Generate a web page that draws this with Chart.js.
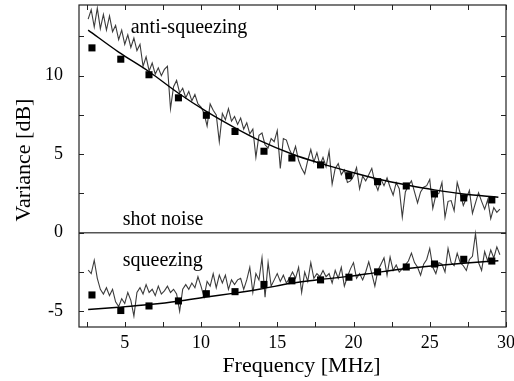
<!DOCTYPE html>
<html><head><meta charset="utf-8">
<script src="https://cdn.jsdelivr.net/npm/chart.js@4/dist/chart.umd.min.js"></script>
<style>html,body{margin:0;padding:0;background:#fff}#wrap{width:514px;height:381px}</style>
</head><body><div id="wrap"><canvas id="c" width="514" height="381"></canvas></div>
<script>
// ---- data ----
const traceFreq = [2.6,2.8,3.0,3.2,3.4,3.6,3.8,4.0,4.2,4.4,4.6,4.8,5.0,5.2,5.4,5.6,5.8,6.0,6.2,6.4,6.6,6.8,7.0,7.2,7.4,7.6,7.8,8.0,8.2,8.4,8.6,8.8,9.0,9.2,9.4,9.6,9.8,10.0,10.2,10.4,10.6,10.8,11.0,11.2,11.4,11.6,11.8,12.0,12.2,12.4,12.6,12.8,13.0,13.2,13.4,13.6,13.8,14.0,14.2,14.4,14.6,14.8,15.0,15.2,15.4,15.6,15.8,16.0,16.2,16.4,16.6,16.8,17.0,17.2,17.4,17.6,17.8,18.0,18.2,18.4,18.6,18.8,19.0,19.2,19.4,19.6,19.8,20.0,20.2,20.4,20.6,20.8,21.0,21.2,21.4,21.6,21.8,22.0,22.2,22.4,22.6,22.8,23.0,23.2,23.4,23.6,23.8,24.0,24.2,24.4,24.6,24.8,25.0,25.2,25.4,25.6,25.8,26.0,26.2,26.4,26.6,26.8,27.0,27.2,27.4,27.6,27.8,28.0,28.2,28.4,28.6,28.8,29.0,29.2,29.4,29.6];
const antiTrace = [13.6,14.2,13.1,14.3,13.0,13.9,12.9,13.8,12.8,13.2,12.3,12.9,12.0,12.6,11.8,12.4,11.6,12.0,10.6,11.2,10.3,10.8,10.1,10.5,10.0,10.4,10.6,7.9,9.3,9.7,8.9,9.2,8.6,9.0,8.4,8.8,8.2,8.0,7.6,6.8,8.2,7.8,7.5,5.8,7.6,7.2,7.9,7.1,7.4,6.9,7.3,6.6,7.0,6.3,6.6,4.8,6.2,6.35,5.6,5.4,6.0,5.8,6.5,4.1,6.0,5.9,5.3,4.9,5.5,4.6,4.1,3.75,4.6,5.3,4.5,5.1,4.3,4.8,4.2,5.2,3.1,4.1,4.4,3.7,4.0,3.2,3.3,3.6,4.15,2.8,3.6,3.3,3.7,4.1,3.2,2.7,3.4,3.0,3.5,2.9,2.4,3.2,2.8,1.0,2.6,3.0,3.3,2.6,1.9,2.6,2.9,3.0,3.4,1.55,2.4,2.5,3.2,0.98,2.0,2.05,1.4,3.2,2.5,1.73,2.2,2.7,1.23,1.9,2.55,2.0,1.5,2.1,0.9,1.6,1.3,1.5];
const squeezeTrace = [-2.37,-2.6,-1.75,-2.9,-3.6,-3.9,-3.5,-4.0,-3.6,-4.4,-4.7,-4.2,-4.5,-3.8,-4.3,-5.3,-3.8,-3.5,-3.9,-3.3,-3.8,-3.6,-4.0,-3.4,-3.9,-3.7,-3.4,-3.8,-3.6,-3.9,-5.0,-3.6,-3.3,-3.6,-3.2,-3.5,-2.8,-3.4,-4.1,-3.1,-3.4,-2.6,-3.5,-2.7,-3.2,-2.7,-3.6,-3.0,-3.3,-3.0,-2.9,-3.6,-3.0,-2.2,-3.8,-2.6,-3.0,-1.6,-4.1,-1.9,-3.4,-3.0,-2.6,-3.1,-2.7,-3.2,-2.9,-2.5,-2.9,-2.2,-3.8,-2.5,-3.1,-1.9,-2.9,-2.6,-2.8,-2.4,-2.8,-2.6,-3.2,-2.4,-2.9,-2.2,-3.4,-2.8,-2.3,-1.9,-2.9,-2.6,-3.0,-2.5,-1.85,-2.6,-3.4,-2.4,-2.0,-1.6,-2.7,-1.55,-2.4,-2.05,-2.5,-2.3,-2.05,-1.8,-1.3,-1.9,-2.2,-2.7,-2.0,-1.7,-1.0,-2.2,-2.6,-1.9,-2.0,-2.5,-1.0,-1.9,-2.1,-1.3,-1.9,-2.1,-2.4,-1.7,-1.5,-0.05,-1.9,-2.4,-1.2,-1.8,-1.1,-1.6,-0.9,-1.4];

const markerFreq = [2.85,4.74,6.59,8.52,10.35,12.23,14.13,15.96,17.84,19.70,21.58,23.46,25.31,27.23,29.07];
const antiMarkers = [11.77,11.05,10.06,8.59,7.48,6.45,5.19,4.76,4.32,3.63,3.25,2.98,2.47,2.22,2.09];
const squeezeMarkers = [-3.96,-4.95,-4.66,-4.34,-3.88,-3.75,-3.29,-3.06,-3.00,-2.83,-2.49,-2.18,-1.99,-1.69,-1.80];

const fitFreq = [2.6,4.6,6.6,8.5,10.35,12.2,13.9,16.0,17.8,19.7,21.6,23.5,25.3,27.2,29.5];
const antiFit = [12.9,11.5,10.25,8.9,7.73,6.7,5.85,5.0,4.43,3.9,3.42,3.04,2.73,2.47,2.26];
const squeezeFit = [-4.89,-4.74,-4.57,-4.36,-4.09,-3.84,-3.58,-3.2,-2.98,-2.78,-2.52,-2.28,-2.1,-1.94,-1.78];

const shotNoiseFreq = [2, 30];
const shotNoiseLevel = [0, 0];

const xTickLabels = [5,10,15,20,25,30];
const yTickLabels = [-5,0,5,10];
const xMinorTicks = [2.5,5,7.5,10,12.5,15,17.5,20,22.5,25,27.5,30];
const yMinorTicks = [-5,-2.5,0,2.5,5,7.5,10,12.5];

const annotations = [
  {text:'anti-squeezing', x:5.39, y:12.73},
  {text:'shot noise', x:4.87, y:0.47},
  {text:'squeezing', x:4.87, y:-2.11}
];
const xTitle = 'Frequency [MHz]';
const yTitle = 'Variance [dB]';

// ---- build ----
const pts = (xs, ys) => xs.map((x,i)=>({x:x, y:ys[i]}));
const FONT = "'Liberation Serif', 'Times New Roman', serif";

const framePlugin = {
  id:'frame',
  afterDraw(chart){
    const {ctx, chartArea:a, scales:{x, y}} = chart;
    ctx.save();
    ctx.strokeStyle = '#222';
    ctx.lineWidth = 1.2;
    ctx.strokeRect(a.left, a.top, a.right-a.left, a.bottom-a.top);
    ctx.lineWidth = 1;
    ctx.beginPath();
    const tl = 5;
    xMinorTicks.forEach(v=>{
      const px = Math.round(x.getPixelForValue(v))+0.5;
      ctx.moveTo(px, a.bottom); ctx.lineTo(px, a.bottom-tl);
      ctx.moveTo(px, a.top); ctx.lineTo(px, a.top+tl);
    });
    yMinorTicks.forEach(v=>{
      const py = Math.round(y.getPixelForValue(v))+0.5;
      ctx.moveTo(a.left, py); ctx.lineTo(a.left+tl, py);
      ctx.moveTo(a.right, py); ctx.lineTo(a.right-tl, py);
    });
    ctx.stroke();
    ctx.fillStyle = '#000';
    ctx.font = '20px ' + FONT;
    ctx.textAlign = 'left';
    ctx.textBaseline = 'alphabetic';
    annotations.forEach(t=>{
      ctx.fillText(t.text, x.getPixelForValue(t.x), y.getPixelForValue(t.y));
    });
    ctx.font = '22px ' + FONT;
    ctx.textAlign = 'center';
    ctx.fillText(xTitle, (a.left+a.right)/2 + 9, 372);
    ctx.save();
    ctx.translate(30, (a.top+a.bottom)/2 - 6);
    ctx.rotate(-Math.PI/2);
    ctx.fillText(yTitle, 0, 0);
    ctx.restore();
    ctx.restore();
  }
};

function zeroPad(s){ s.paddingTop = 0; s.paddingBottom = 0; s.paddingLeft = 0; s.paddingRight = 0; }

new Chart(document.getElementById('c'), {
  type:'line',
  data:{
    datasets:[
      {label:'anti markers', data:pts(markerFreq, antiMarkers), showLine:false, pointStyle:'rect', pointRadius:5, pointBackgroundColor:'#000', pointBorderWidth:0, order:0},
      {label:'squeeze markers', data:pts(markerFreq, squeezeMarkers), showLine:false, pointStyle:'rect', pointRadius:5, pointBackgroundColor:'#000', pointBorderWidth:0, order:0},
      {label:'anti fit', data:pts(fitFreq, antiFit), borderColor:'#000', borderWidth:1.4, pointRadius:0, cubicInterpolationMode:'monotone', order:1},
      {label:'squeeze fit', data:pts(fitFreq, squeezeFit), borderColor:'#000', borderWidth:1.4, pointRadius:0, cubicInterpolationMode:'monotone', order:1},
      {label:'anti trace', data:pts(traceFreq, antiTrace), borderColor:'#3c3c3c', borderWidth:1.1, pointRadius:0, tension:0, order:2},
      {label:'squeeze trace', data:pts(traceFreq, squeezeTrace), borderColor:'#3c3c3c', borderWidth:1.1, pointRadius:0, tension:0, order:2},
      {label:'shot noise', data:pts(shotNoiseFreq, shotNoiseLevel), borderColor:'#555', borderWidth:1.5, pointRadius:0, order:3}
    ]
  },
  options:{
    responsive:false,
    devicePixelRatio:1,
    animation:false,
    layout:{padding:{top:3, right:8, left:0, bottom:0}},
    plugins:{legend:{display:false}, tooltip:{enabled:false}},
    scales:{
      x:{
        type:'linear', min:2, max:30,
        grid:{display:false, drawTicks:false}, border:{display:false},
        afterBuildTicks(s){ s.ticks = xTickLabels.map(v=>({value:v})); },
        afterFit(s){ s.height = 54; zeroPad(s); },
        ticks:{color:'#000', font:{family:FONT, size:18}, padding:5, maxRotation:0, autoSkip:false}
      },
      y:{
        type:'linear', min:-6, max:14.5,
        grid:{display:false, drawTicks:false}, border:{display:false},
        afterBuildTicks(s){ s.ticks = yTickLabels.map(v=>({value:v})); },
        afterFit(s){ s.width = 79; zeroPad(s); },
        ticks:{color:'#000', font:{family:FONT, size:18}, padding:16, autoSkip:false}
      }
    }
  },
  plugins:[framePlugin]
});
</script></body></html>
